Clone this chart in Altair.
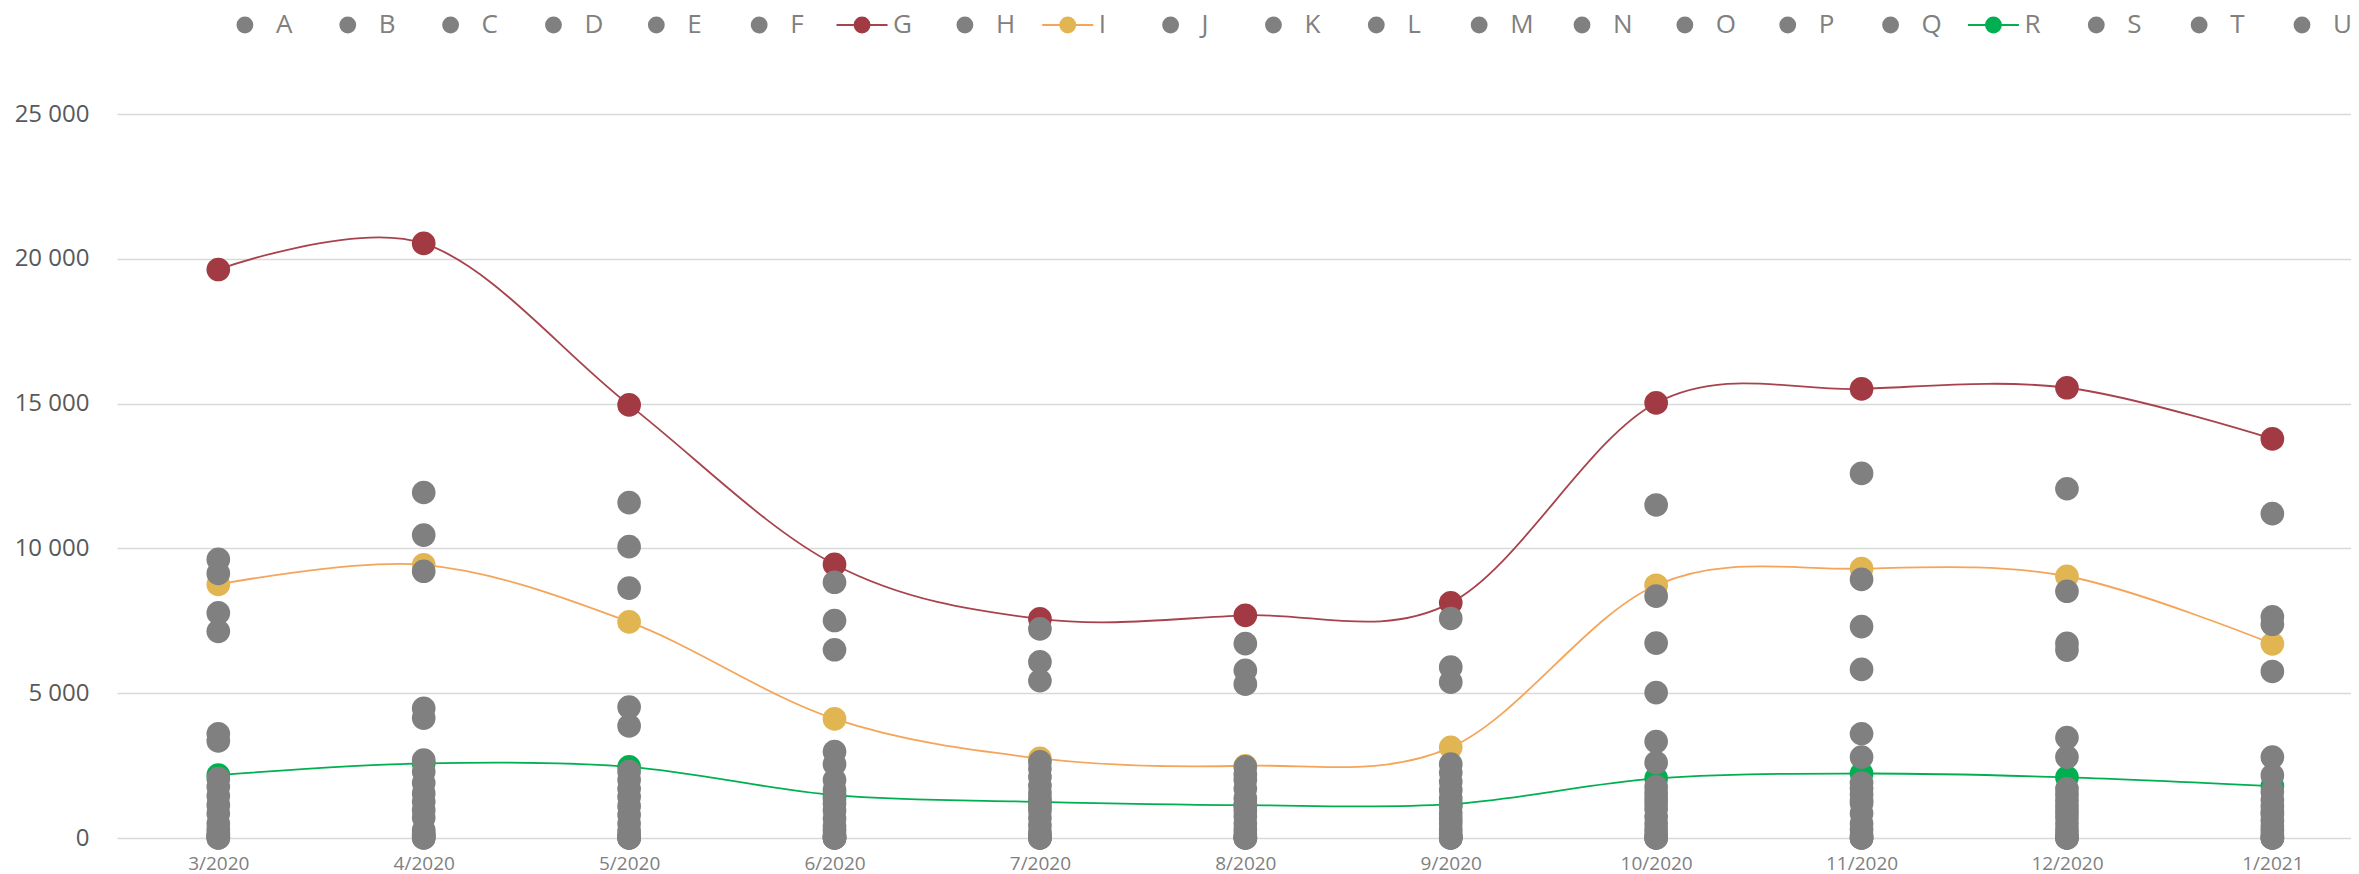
import altair as alt
import pandas as pd

months = ["3/2020", "4/2020", "5/2020", "6/2020", "7/2020", "8/2020",
          "9/2020", "10/2020", "11/2020", "12/2020", "1/2021"]
series_names = list("ABCDEFGHIJKLMNOPQRSTU")

# highlighted series
G = [19630, 20530, 14955, 9446, 7565, 7690, 8120, 15023, 15508, 15547, 13780]
I = [8754, 9430, 7461, 4112, 2750, 2494, 3131, 8729, 9301, 9038, 6706]
R = [2172, 2577, 2459, 1479, 1247, 1133, 1167, 2058, 2227, 2096, 1794]

# grey series
A = [0, 0, 0, 0, 0, 0, 0, 0, 0, 0, 0]
B = [0, 0, 0, 0, 0, 0, 0, 0, 0, 0, 0]
C = [50, 50, 0, 0, 0, 0, 0, 0, 0, 0, 0]
D = [100, 100, 50, 50, 100, 50, 50, 150, 100, 150, 100]
E = [150, 150, 100, 100, 200, 150, 150, 300, 300, 300, 250]
F = [300, 270, 250, 250, 440, 300, 300, 500, 500, 500, 400]
H = [500, 700, 500, 400, 700, 500, 500, 730, 850, 720, 590]
J = [845, 960, 790, 670, 1550, 750, 650, 1000, 1200, 900, 800]
K = [1133, 1250, 1100, 950, 1800, 1700, 1650, 1200, 1300, 1100, 900]
L = [3350, 1540, 1420, 2000, 2110, 2000, 1940, 1370, 1510, 1300, 1100]
M = [3600, 4140, 3870, 2550, 2400, 2200, 2250, 3330, 3600, 3470, 2790]
N = [7137, 4480, 4520, 2980, 2630, 2460, 2550, 5020, 5820, 6490, 5750]
O = [7773, 9210, 8630, 6500, 5430, 5310, 5380, 6730, 7300, 6720, 7380]
P = [9135, 10460, 10060, 7510, 6080, 5790, 5900, 8350, 8930, 8520, 7640]
Q = [9620, 11930, 11580, 8830, 7220, 6710, 7580, 11500, 12590, 12060, 11200]
S = [1450, 1900, 1700, 1190, 960, 1370, 850, 1550, 1700, 2790, 1310]
T = [1767, 2290, 2000, 1650, 1100, 960, 1370, 2600, 2790, 1510, 2160]
U = [2050, 2690, 2290, 1350, 1370, 1150, 1100, 1770, 1900, 1700, 1600]

values = {"A": A, "B": B, "C": C, "D": D, "E": E, "F": F, "G": G, "H": H,
          "I": I, "J": J, "K": K, "L": L, "M": M, "N": N, "O": O, "P": P,
          "Q": Q, "R": R, "S": S, "T": T, "U": U}

line_series = ["G", "I", "R"]
line_colors = ["#A8434D", "#F4A55A", "#00B050"]
marker_colors = {"G": "#A23A43", "I": "#E1B552", "R": "#00B050"}
GREY = "#808080"
fill_range = [marker_colors.get(s, GREY) for s in series_names]

rows = [{"series": s, "month": m, "value": v}
        for s in series_names for m, v in zip(months, values[s])]
df = pd.DataFrame(rows)
df_lines = df[df["series"].isin(line_series)]
leg_df = pd.DataFrame({"series": series_names})
leg_lines = leg_df[leg_df["series"].isin(line_series)]

FONT = "Open Sans"

x_main = alt.X(
    "month:O",
    scale=alt.Scale(type="point", domain=months, padding=0.438, align=0.563),
    axis=alt.Axis(title=None, labelAngle=0, domain=False, ticks=False, grid=False,
                  labelPadding=16, labelFontSize=19, labelFont=FONT,
                  labelColor="#808080"),
)
y_main = alt.Y(
    "value:Q",
    scale=alt.Scale(domain=[0, 25000], nice=False),
    axis=alt.Axis(title=None, values=[0, 5000, 10000, 15000, 20000, 25000],
                  domain=False, ticks=False, grid=True, gridColor="#D9D9D9",
                  gridWidth=1.3,
                  labelExpr="replace(format(datum.value, ','), ',', ' ')",
                  labelFontSize=24, labelFont=FONT, labelColor="#595959",
                  labelPadding=28),
)

stroke_enc = alt.Stroke("series:N", scale=alt.Scale(domain=line_series, range=line_colors),
                        legend=None)
fill_enc = alt.Fill("series:N", scale=alt.Scale(domain=series_names, range=fill_range),
                    legend=None)

lines = alt.Chart(df_lines).mark_line(interpolate="cardinal", strokeWidth=1.8).encode(
    x=x_main, y=y_main, stroke=stroke_enc)
points = alt.Chart(df).mark_circle(size=560, opacity=1).encode(
    x=x_main, y=y_main, fill=fill_enc)
main = alt.layer(lines, points)

x_leg = alt.X("series:N",
              scale=alt.Scale(type="point", domain=series_names, padding=0.86, align=0.723),
              axis=None)
LEG_Y = -89
leg_tick = alt.Chart(leg_lines).mark_point(
    shape="M-1,0L1,0", filled=False, size=2601, strokeWidth=2, opacity=1).encode(
    x=x_leg, y=alt.value(LEG_Y), stroke=stroke_enc)
leg_dot = alt.Chart(leg_df).mark_circle(size=283, opacity=1).encode(
    x=x_leg, y=alt.value(LEG_Y), fill=fill_enc)
leg_text = alt.Chart(leg_df).mark_text(
    align="left", baseline="middle", dx=31, fontSize=26, font=FONT, color="#808080").encode(
    x=x_leg, y=alt.value(LEG_Y), text="series:N")
legend = alt.layer(leg_tick, leg_dot, leg_text)

chart = alt.layer(main, legend).resolve_scale(x="independent").properties(
    width=2234, height=724,
    autosize=alt.AutoSizeParams(type="none"),
    padding={"left": 109, "top": 106, "right": 0, "bottom": 36},
).configure_view(stroke=None)

chart.save("out.html", embed_options={"renderer": "svg", "actions": False})
